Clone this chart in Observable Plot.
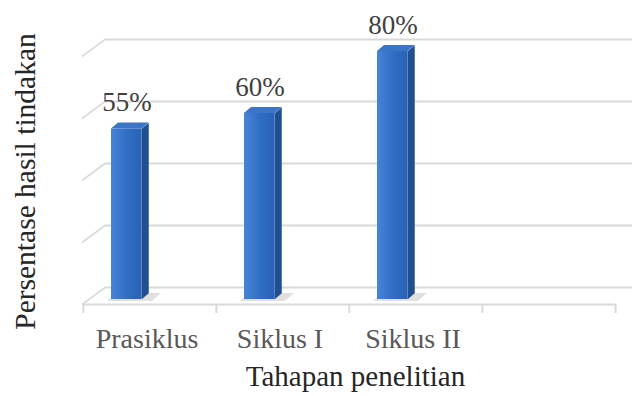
<!DOCTYPE html>
<html><head><meta charset="utf-8">
<script src="https://cdn.jsdelivr.net/npm/d3@7"></script>
<script src="https://cdn.jsdelivr.net/npm/@observablehq/plot@0.6"></script>
<style>body{margin:0;background:#fff;} svg{display:block}</style>
</head><body>
<script>
const categories = ["Prasiklus", "Siklus I", "Siklus II"];
const values = [55, 60, 80];
const valueLabels = ["55%", "60%", "80%"];
const emptySlot = "";
const gridTicks = [0, 20, 40, 60, 80];
const xTitle = "Tahapan penelitian";
const yTitle = "Persentase hasil tindakan";

const data = categories.map((c, i) => ({category: c, value: values[i], label: valueLabels[i]}));
const xDomain = [...categories, emptySlot];

const W = 632, H = 396, ML = 82, MR = 17, MT = 59, MB = 93;
const frameW = W - ML - MR, frameH = H - MT - MB;
const band = frameW / xDomain.length;
const depthX = 23, depthY = 17;      // wall depth in the oblique view
const barDepthX = 7, barDepthY = 6;  // bar depth
const barShift = 12;                 // bars stand in front of the back wall
const barLeft = 28, barW = 31;
const serif = "'Liberation Serif', 'Times New Roman', serif";

const GRID = "#d9d9d9", DIAG = "#d8d8d8", SIDE = "#204f90", TOP = "#3a75c8", SHADOW = "#c6c6c6";

const svg = Plot.plot({
  width: W, height: H,
  marginLeft: ML, marginRight: MR, marginTop: MT, marginBottom: MB,
  style: {background: "white"},
  x: {type: "band", domain: xDomain, padding: 0, axis: null},
  y: {domain: [0, 80], range: [287, 39], axis: null},
  marks: [
    // back-wall gridlines
    Plot.ruleY(gridTicks, {y: d => d, dx: depthX, stroke: GRID, strokeWidth: 2}),
    // left-wall depth segments
    Plot.ruleY(gridTicks, {y: d => d, dy: depthY, insetRight: frameW - depthX, stroke: DIAG, strokeWidth: 2}),
    // floor front edge / category axis
    Plot.ruleY([0], {y: d => d, dy: depthY, stroke: GRID, strokeWidth: 2}),
    Plot.ruleX(xDomain, {x: d => d, dx: -band / 2, insetTop: frameH - 9, dy: 10, stroke: GRID, strokeWidth: 2}),
    Plot.ruleX([emptySlot], {x: d => d, dx: band / 2, insetTop: frameH - 9, dy: 10, stroke: GRID, strokeWidth: 2}),
    // soft floor shadow under each bar
    Plot.barY(data, {x: "category", y1: 0, y2: 0, dy: barShift + 2, insetTop: -8,
      insetLeft: barLeft - 4, insetRight: band - barLeft - barW - 10, fill: SHADOW, fillOpacity: 0.55}),
    // bars: side, top, front
    Plot.barY(data, {x: "category", y: "value", dy: barShift,
      insetLeft: barLeft + barW, insetRight: band - barLeft - barW - barDepthX, fill: SIDE}),
    Plot.barY(data, {x: "category", y1: "value", y2: "value", dy: barShift, insetTop: -barDepthY,
      insetLeft: barLeft, insetRight: band - barLeft - barW, fill: TOP}),
    Plot.barY(data, {x: "category", y: "value", dy: barShift,
      insetLeft: barLeft, insetRight: band - barLeft - barW, fill: "url(#frontGrad)"}),
    // value labels
    Plot.text(data, {x: "category", y: "value", text: "label", lineAnchor: "bottom",
      dx: -(band / 2 - barLeft - barW / 2), dy: barShift - 18,
      fontSize: 27, fontFamily: serif, fill: "#404040"}),
    // category labels
    Plot.text(categories, {x: d => d, text: d => d, frameAnchor: "bottom", lineAnchor: "bottom",
      dy: 44, dx: -3, fontSize: 28, fontFamily: serif, fill: "#595959"}),
    // axis titles
    Plot.text([xTitle], {text: d => d, frameAnchor: "bottom", lineAnchor: "bottom", textAnchor: "middle",
      dx: 6.5, dy: 82, fontSize: 29, fontFamily: serif, fill: "#262626"}),
    Plot.text([yTitle], {text: d => d, frameAnchor: "left", lineAnchor: "bottom", textAnchor: "middle", rotate: -90,
      dx: -48, fontSize: 29.5, fontFamily: serif, fill: "#262626"})
  ]
});
document.body.append(svg);

const s = d3.select(svg);
const defs = s.insert("defs", ":first-child");
const grad = defs.append("linearGradient").attr("id", "frontGrad")
  .attr("x1", 0).attr("x2", 1).attr("y1", 0).attr("y2", 0);
grad.append("stop").attr("offset", "0%").attr("stop-color", "#4884d6");
grad.append("stop").attr("offset", "55%").attr("stop-color", "#2f6dc4");
grad.append("stop").attr("offset", "100%").attr("stop-color", "#2961b4");

function fillOf(el) { return (el.getAttribute("fill") || el.parentNode.getAttribute("fill") || "").toLowerCase(); }
function strokeOf(el) { return (el.getAttribute("stroke") || el.parentNode.getAttribute("stroke") || "").toLowerCase(); }
const deg = r => r * 180 / Math.PI;

s.selectAll("rect").each(function () {
  const f = fillOf(this);
  const x = +this.getAttribute("x"), y = +this.getAttribute("y"), h = +this.getAttribute("height");
  const oy = y + h;
  if (f === SIDE) {
    this.setAttribute("transform", `translate(${x},${oy}) skewY(${deg(Math.atan(-barDepthY / barDepthX))}) translate(${-x},${-oy})`);
  } else if (f === TOP || f === SHADOW) {
    this.setAttribute("transform", `translate(${x},${oy}) skewX(${deg(Math.atan(-barDepthX / barDepthY))}) translate(${-x},${-oy})`);
  }
});
s.selectAll("line").each(function () {
  if (strokeOf(this) !== DIAG) return;
  const x = +this.getAttribute("x1"), y = +this.getAttribute("y1");
  this.setAttribute("transform", `translate(${x},${y}) skewY(${deg(Math.atan(-depthY / depthX))}) translate(${-x},${-y})`);
});
</script>
</body></html>
